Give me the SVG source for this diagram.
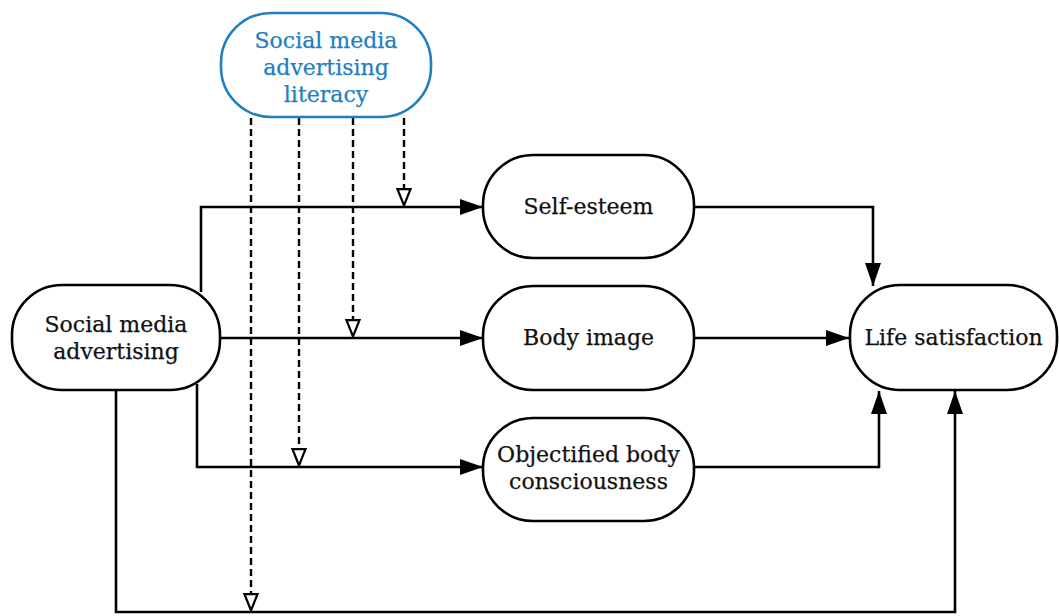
<svg xmlns="http://www.w3.org/2000/svg" width="1059" height="616" viewBox="0 0 1059 616">
<style>
.node{fill:#fff;stroke:#000;stroke-width:2.6}
.mod{fill:#fff;stroke:#1f7fc0;stroke-width:2.6}
.t{font-family:"DejaVu Serif","Liberation Serif",serif;font-size:22px;fill:#111;text-anchor:middle;stroke:#111;stroke-width:0.25}
.tb{fill:#1f7fc0;stroke:#1f7fc0}
.c{fill:none;stroke:#000;stroke-width:2.6}
.d{fill:none;stroke:#000;stroke-width:2.4;stroke-dasharray:7,4}
</style>
<defs>
<marker id="a" viewBox="0 0 23 16" refX="23" refY="8" markerWidth="23" markerHeight="16" markerUnits="userSpaceOnUse" orient="auto">
<path d="M0,0 L23,8 L0,16 Z" fill="#000"/>
</marker>
<marker id="o" viewBox="0 0 19 16" refX="18" refY="8" markerWidth="19" markerHeight="16" markerUnits="userSpaceOnUse" orient="auto">
<path d="M1.2,1.5 L17.5,8 L1.2,14.5 Z" fill="#fff" stroke="#000" stroke-width="2.2"/>
</marker>
</defs>
<g id="connectors">
<path class="c" d="M201,292 V207 H483" marker-end="url(#a)"/>
<path class="c" d="M220,338 H483" marker-end="url(#a)"/>
<path class="c" d="M197,384 V467 H483" marker-end="url(#a)"/>
<path class="c" d="M116,390 V612 H955 V391" marker-end="url(#a)"/>
<path class="c" d="M694,207 H873 V286" marker-end="url(#a)"/>
<path class="c" d="M694,338 H849" marker-end="url(#a)"/>
<path class="c" d="M694,467 H879 V391" marker-end="url(#a)"/>
<path class="d" d="M251,118 V611" marker-end="url(#o)"/>
<path class="d" d="M299,118 V466" marker-end="url(#o)"/>
<path class="d" d="M353,118 V337" marker-end="url(#o)"/>
<path class="d" d="M404,118 V206" marker-end="url(#o)"/>
</g>
<g id="literacy">
<rect class="mod" x="221" y="13" width="210" height="104" rx="50" ry="50"/>
<text class="t tb" x="326" y="48">Social media</text>
<text class="t tb" x="326" y="75">advertising</text>
<text class="t tb" x="326" y="102">literacy</text>
</g>
<g id="sma">
<rect class="node" x="12" y="285" width="208" height="105" rx="50" ry="50"/>
<text class="t" x="116" y="332">Social media</text>
<text class="t" x="116" y="359">advertising</text>
</g>
<g id="selfesteem">
<rect class="node" x="483" y="155" width="211" height="103" rx="50" ry="50"/>
<text class="t" x="588.5" y="214">Self-esteem</text>
</g>
<g id="bodyimage">
<rect class="node" x="483" y="286" width="211" height="104" rx="50" ry="50"/>
<text class="t" x="588.5" y="345">Body image</text>
</g>
<g id="obc">
<rect class="node" x="483" y="418" width="211" height="103" rx="50" ry="50"/>
<text class="t" x="588.5" y="462">Objectified body</text>
<text class="t" x="588.5" y="489">consciousness</text>
</g>
<g id="life">
<rect class="node" x="850" y="285" width="207" height="105" rx="50" ry="50"/>
<text class="t" x="953.5" y="345">Life satisfaction</text>
</g>
</svg>
